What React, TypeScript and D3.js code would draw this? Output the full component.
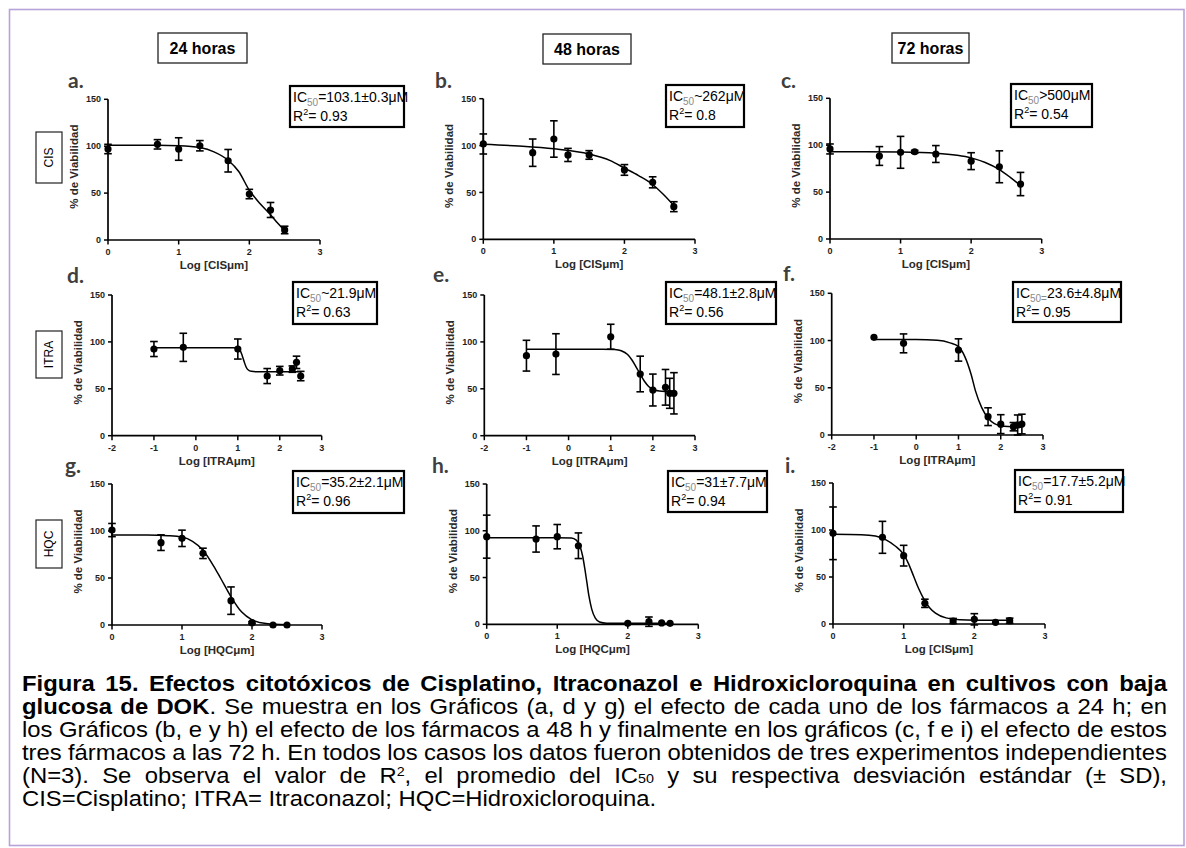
import React from "react";
import * as d3 from "d3";

// ---------------- data ----------------
const timeLabels = ["24 horas", "48 horas", "72 horas"];
const drugLabels = ["CIS", "ITRA", "HQC"];
const panelLetters = ["a.", "b.", "c.", "d.", "e.", "f.", "g.", "h.", "i."];
const xAxisTitles = [
  "Log [CISμm]", "Log [CISμm]", "Log [CISμm]",
  "Log [ITRAμm]", "Log [ITRAμm]", "Log [ITRAμm]",
  "Log [HQCμm]", "Log [HQCμm]", "Log [CISμm]",
];
const yAxisTitle = "% de Viabilidad";
const ic50Sub = ["50", "50", "50", "50", "50", "50=", "50", "50", "50"];
const ic50Values = [
  "=103.1±0.3μM", "~262μM", ">500μM",
  "~21.9μM", "=48.1±2.8μM", "23.6±4.8μM",
  "=35.2±2.1μM", "=31±7.7μM", "=17.7±5.2μM",
];
const r2Values = ["0.93", "0.8", "0.54", "0.63", "0.56", "0.95", "0.96", "0.94", "0.91"];
const yTicks = [0, 50, 100, 150];
const xTicksCIS = [0, 1, 2, 3];
const xTicksITRA = [-2, -1, 0, 1, 2, 3];

// a. CIS 24 h
const cis24X = [0, 0.7, 1, 1.3, 1.7, 2, 2.3, 2.5];
const cis24Y = [97, 102, 97, 100.5, 84.5, 49, 32, 10.7];
const cis24Err = [5, 5, 12, 5.5, 12, 5, 8, 4];
const cis24CurveX = [0, 0.7, 1.0, 1.3, 1.5, 1.7, 1.85, 2.0, 2.15, 2.3, 2.4, 2.5];
const cis24CurveY = [101, 101, 100.5, 98.5, 94, 85, 73, 53, 39, 27, 18, 10];
// b. CIS 48 h
const cis48X = [0, 0.7, 1, 1.2, 1.5, 2, 2.4, 2.7];
const cis48Y = [101.7, 92.4, 107, 90, 90, 74, 60.8, 34.8];
const cis48Err = [10.7, 14.6, 19.4, 7, 4.6, 5.7, 5.9, 5.3];
const cis48CurveX = [0, 0.5, 1, 1.5, 1.8, 2, 2.2, 2.4, 2.55, 2.7];
const cis48CurveY = [101.5, 99.5, 96.5, 91, 84, 76, 68, 58.5, 48, 36];
// c. CIS 72 h
const cis72X = [0, 0.7, 1, 1.2, 1.5, 2, 2.4, 2.7];
const cis72Y = [96, 88.5, 92.4, 93, 90.6, 83, 77, 58.6];
const cis72Err = [5.3, 10, 17, 1.5, 9, 9, 17, 12.4];
const cis72CurveX = [0, 0.5, 1, 1.5, 1.8, 2, 2.2, 2.4, 2.55, 2.7];
const cis72CurveY = [93, 93, 92.7, 91.5, 89.3, 86.5, 81.5, 74, 66, 57];
// d. ITRA 24 h
const itra24X = [-1, -0.3, 1, 1.7, 2, 2.3, 2.4, 2.5];
const itra24Y = [92.4, 94.2, 92.4, 63.6, 69.3, 71, 78.2, 63.6];
const itra24Err = [8, 15, 10.7, 8, 4.6, 3.4, 6.6, 5];
const itra24CurveX = [-1, 0.9, 1.0, 1.05, 1.1, 1.15, 1.2, 1.25, 1.32, 1.45, 2.5];
const itra24CurveY = [93.8, 93.8, 93.5, 91.5, 86, 79, 73, 70, 68.6, 68.2, 68.2];
// e. ITRA 48 h
const itra48X = [-1, -0.3, 1, 1.7, 2, 2.3, 2.4, 2.5];
const itra48Y = [85.3, 87, 105.5, 65.8, 48.7, 51.6, 45.2, 45.2];
const itra48Err = [16.4, 21.7, 13.3, 19, 17, 19, 16, 22];
const itra48CurveX = [-1, 0.8, 1.1, 1.25, 1.4, 1.5, 1.6, 1.7, 1.8, 1.9, 2.0, 2.15, 2.5];
const itra48CurveY = [92.2, 92.2, 91.8, 90.5, 86.5, 81, 73.5, 65.5, 58, 52.5, 49.5, 47.7, 47];
// f. ITRA 72 h
const itra72X = [-1, -0.3, 1, 1.7, 2, 2.3, 2.4, 2.5];
const itra72Y = [103.4, 97, 90, 19.4, 11.5, 8.8, 10.6, 11.6];
const itra72Err = [0, 10, 11.8, 9.4, 10, 4.4, 10.6, 10.4];
const itra72CurveX = [-1, 0, 0.5, 0.8, 1.0, 1.15, 1.3, 1.4, 1.55, 1.7, 1.85, 2.0, 2.5];
const itra72CurveY = [101, 101, 100.3, 97.5, 93.5, 83, 64, 47, 29, 18, 12, 9.8, 8.3];
// g. HQC 24 h
const hqc24X = [0, 0.7, 1, 1.3, 1.7, 2, 2.3, 2.5];
const hqc24Y = [101, 87.6, 92.2, 76.2, 25.9, 2.5, 0, 0];
const hqc24Err = [7, 8.3, 8.7, 5.5, 14.6, 1, 0, 0];
const hqc24CurveX = [0, 0.5, 0.8, 1.0, 1.15, 1.3, 1.45, 1.55, 1.7, 1.85, 2.0, 2.2, 2.5];
const hqc24CurveY = [95.8, 95.7, 95, 93.5, 89, 79.5, 63, 50, 30, 14, 5.5, 1.5, 0.2];
// h. HQC 48 h
const hqc48X = [0, 0.7, 1, 1.3, 2, 2.3, 2.48, 2.6];
const hqc48Y = [93.7, 91.2, 93.7, 84, 1, 2.8, 1.5, 1];
const hqc48Err = [23, 14, 13, 13.7, 0, 5, 0, 0];
const hqc48CurveX = [0, 1.0, 1.2, 1.27, 1.32, 1.36, 1.39, 1.42, 1.45, 1.49, 1.54, 1.6, 1.7, 2.6];
const hqc48CurveY = [92.6, 92.6, 92.2, 90, 84, 73, 60, 45, 30, 16, 6.5, 2.5, 1.2, 1];
// i. HQC 72 h
const hqc72X = [0, 0.7, 1, 1.3, 1.7, 2, 2.3, 2.5];
const hqc72Y = [96.5, 92.2, 72.7, 22, 3.2, 5, 1.8, 3.5];
const hqc72Err = [28, 17, 11, 4.4, 2.7, 6, 0, 2.7];
const hqc72CurveX = [0, 0.4, 0.6, 0.75, 0.88, 1.0, 1.07, 1.14, 1.21, 1.29, 1.37, 1.45, 1.6, 1.8, 2.0, 2.5];
const hqc72CurveY = [95.5, 95, 93.5, 89.5, 83, 74, 64, 51, 38, 26, 17, 11.5, 6.5, 4.6, 4.1, 4];

const panelX = [cis24X, cis48X, cis72X, itra24X, itra48X, itra72X, hqc24X, hqc48X, hqc72X];
const panelY = [cis24Y, cis48Y, cis72Y, itra24Y, itra48Y, itra72Y, hqc24Y, hqc48Y, hqc72Y];
const panelErr = [cis24Err, cis48Err, cis72Err, itra24Err, itra48Err, itra72Err, hqc24Err, hqc48Err, hqc72Err];
const curveXs = [cis24CurveX, cis48CurveX, cis72CurveX, itra24CurveX, itra48CurveX, itra72CurveX, hqc24CurveX, hqc48CurveX, hqc72CurveX];
const curveYs = [cis24CurveY, cis48CurveY, cis72CurveY, itra24CurveY, itra48CurveY, itra72CurveY, hqc24CurveY, hqc48CurveY, hqc72CurveY];

const captionLines = [
  [{ t: "Figura 15. Efectos citotóxicos de Cisplatino, Itraconazol e Hidroxicloroquina en cultivos con baja", b: true }],
  [
    { t: "glucosa de DOK", b: true },
    { t: ". Se muestra en los Gráficos (a, d y g) el efecto de cada uno de los fármacos a 24 h; en" },
  ],
  [{ t: "los Gráficos (b, e y h) el efecto de los fármacos a 48 h y finalmente en los gráficos (c, f e i) el efecto de estos" }],
  [{ t: "tres fármacos a las 72 h. En todos los casos los datos fueron obtenidos de tres experimentos independientes" }],
  [
    { t: "(N=3). Se observa el valor de R" },
    { t: "2", sup: true },
    { t: ", el promedio del IC" },
    { t: "50", sub: true },
    { t: " y su respectiva desviación estándar (± SD)," },
  ],
  [{ t: "CIS=Cisplatino; ITRA= Itraconazol; HQC=Hidroxicloroquina." }],
];

// ---------------- layout ----------------
const W = 1186;
const H = 848;
const FONT = "'Liberation Sans', Arial, Helvetica, sans-serif";
const frames = [
  { xL: 108, xR: 320, yB: 240, yT: 99.3 },
  { xL: 483.3, xR: 695, yB: 239.3, yT: 98.7 },
  { xL: 830, xR: 1041.7, yB: 239, yT: 98.3 },
  { xL: 112, xR: 321.7, yB: 435.7, yT: 295 },
  { xL: 484.3, xR: 695, yB: 435.7, yT: 295 },
  { xL: 831.7, xR: 1043, yB: 435, yT: 293.3 },
  { xL: 112, xR: 322, yB: 625, yT: 484 },
  { xL: 486.7, xR: 698.3, yB: 624.3, yT: 484 },
  { xL: 833, xR: 1045, yB: 624, yT: 483 },
];
const letterPos = [
  [68, 88], [435, 88], [781, 88],
  [67, 283], [433, 282], [783, 281],
  [65, 473], [432, 473], [785, 473],
];
const icBoxes = [
  [290, 86, 404, 127], [666, 85, 744, 127], [1011, 84, 1092, 127],
  [293, 282, 377, 324], [666, 282, 776, 324], [1013, 282, 1121, 322],
  [293, 471, 404, 513], [668, 471, 767, 512], [1015, 470, 1123, 512],
];
const timeBoxes = [[158, 33, 247, 63], [543, 34, 631, 64], [892, 33, 969, 63]];
const drugBoxes = [[36, 132, 62, 183], [36, 331, 62, 378], [36, 520, 62, 568]];

const CAP_X0 = 22;
const CAP_X1 = 1167;
const CAP_SIZE = 22.5;
const CAP_SX = 1.06; // horizontal stretch of caption glyphs
const CAP_Y0 = 691;
const CAP_DY = 23;

// ---------------- caption helpers ----------------
let ctx: CanvasRenderingContext2D | null = null;
function measure(text: string, size: number, bold: boolean) {
  if (!ctx) ctx = document.createElement("canvas").getContext("2d");
  if (!ctx) return text.length * size * 0.5;
  ctx.font = `${bold ? "bold " : ""}${size}px "Liberation Sans", Arial, sans-serif`;
  return ctx.measureText(text).width;
}

type Run = { t: string; b?: boolean; sup?: boolean; sub?: boolean };
function splitWords(line: Run[]) {
  const words: Run[][] = [[]];
  line.forEach((r) => {
    const parts = r.t.split(" ");
    parts.forEach((p, i) => {
      if (i > 0) words.push([]);
      if (p.length) words[words.length - 1].push({ ...r, t: p });
    });
  });
  return words.filter((w) => w.length);
}
function runSize(r: Run) {
  return r.sup || r.sub ? CAP_SIZE * 0.6 : CAP_SIZE;
}
function wordWidth(w: Run[]) {
  return w.reduce((s, r) => s + measure(r.t, runSize(r), !!r.b), 0) * CAP_SX;
}

function Caption() {
  const out: React.ReactNode[] = [];
  captionLines.forEach((line, li) => {
    const words = splitWords(line as Run[]);
    const widths = words.map(wordWidth);
    const total = widths.reduce((a, b) => a + b, 0);
    const last = li === captionLines.length - 1;
    const gap = last
      ? measure(" ", CAP_SIZE, false) * CAP_SX
      : (CAP_X1 - CAP_X0 - total) / (words.length - 1);
    let x = CAP_X0;
    const y = CAP_Y0 + li * CAP_DY;
    words.forEach((w, wi) => {
      let off = 0;
      out.push(
        <text
          key={`${li}-${wi}`}
          transform={`translate(${x},${y}) scale(${CAP_SX},1)`}
          fontFamily={FONT}
          fontSize={CAP_SIZE}
          fill="#000"
        >
          {w.map((r, ri) => {
            let target = 0;
            if (r.sup) target = -CAP_SIZE * 0.3;
            if (r.sub) target = CAP_SIZE * 0.02;
            const dy = target - off;
            off = target;
            return (
              <tspan key={ri} dy={dy} fontSize={runSize(r)} fontWeight={r.b ? "bold" : "normal"}>
                {r.t}
              </tspan>
            );
          })}
        </text>
      );
      x += widths[wi] + gap;
    });
  });
  return <g>{out}</g>;
}

// ---------------- panel ----------------
function Panel({ i }: { i: number }) {
  const f = frames[i];
  const isItra = i >= 3 && i <= 5;
  const xDomain: [number, number] = isItra ? [-2, 3] : [0, 3];
  const xTicks = isItra ? xTicksITRA : xTicksCIS;
  const x = d3.scaleLinear().domain(xDomain).range([f.xL, f.xR]);
  const y = d3.scaleLinear().domain([0, 150]).range([f.yB, f.yT]);
  const cx = curveXs[i];
  const cy = curveYs[i];
  const line = d3
    .line<number>()
    .x((d) => x(cx[d]))
    .y((d) => y(cy[d]))
    .curve(d3.curveMonotoneX);
  const idx = d3.range(cx.length);
  const px = panelX[i];
  const py = panelY[i];
  const pe = panelErr[i];
  const [lx, ly] = letterPos[i];
  const [bx0, by0, bx1, by1] = icBoxes[i];
  const tickColor = "#1e1e1e";
  return (
    <g>
      <text x={lx} y={ly} fontFamily="Lato, 'Open Sans', sans-serif" fontWeight="bold" fontSize={21} fill="#3f3f3f">
        {panelLetters[i]}
      </text>
      {/* axes */}
      <line x1={f.xL} x2={f.xR} y1={f.yB} y2={f.yB} stroke="#000" strokeWidth={1.7} />
      <line x1={f.xL} x2={f.xL} y1={f.yB} y2={f.yT} stroke="#000" strokeWidth={1.7} />
      {yTicks.map((t) => (
        <g key={`yt${t}`}>
          <line x1={f.xL - 4} x2={f.xL} y1={y(t)} y2={y(t)} stroke="#000" strokeWidth={1.5} />
          <text x={f.xL - 7} y={y(t)} dy="0.35em" textAnchor="end" fontFamily={FONT} fontWeight="bold" fontSize={9} fill={tickColor}>
            {t}
          </text>
        </g>
      ))}
      {xTicks.map((t) => (
        <g key={`xt${t}`}>
          <line x1={x(t)} x2={x(t)} y1={f.yB} y2={f.yB + 4.5} stroke="#000" strokeWidth={1.5} />
          <text x={x(t)} y={f.yB + 15} textAnchor="middle" fontFamily={FONT} fontWeight="bold" fontSize={9} fill={tickColor}>
            {t}
          </text>
        </g>
      ))}
      <text
        x={(f.xL + f.xR) / 2}
        y={f.yB + 29}
        textAnchor="middle"
        fontFamily={FONT}
        fontWeight="bold"
        fontSize={11.5}
        fill="#2a2a2a"
      >
        {xAxisTitles[i]}
      </text>
      <text
        transform={`translate(${f.xL - 30},${(f.yB + f.yT) / 2 - 3}) rotate(-90)`}
        textAnchor="middle"
        fontFamily={FONT}
        fontWeight="bold"
        fontSize={11.5}
        fill="#2a2a2a"
      >
        {yAxisTitle}
      </text>
      {/* curve */}
      <path d={line(idx) || ""} fill="none" stroke="#000" strokeWidth={1.5} />
      {/* error bars */}
      {px.map((xv, k) =>
        pe[k] > 0 ? (
          <g key={`e${k}`} stroke="#000" strokeWidth={1.6}>
            <line x1={x(xv)} x2={x(xv)} y1={y(py[k] - pe[k])} y2={y(py[k] + pe[k])} />
            <line x1={x(xv) - 3.8} x2={x(xv) + 3.8} y1={y(py[k] - pe[k])} y2={y(py[k] - pe[k])} />
            <line x1={x(xv) - 3.8} x2={x(xv) + 3.8} y1={y(py[k] + pe[k])} y2={y(py[k] + pe[k])} />
          </g>
        ) : null
      )}
      {px.map((xv, k) => (
        <circle key={`p${k}`} cx={x(xv)} cy={y(py[k])} r={3.6} fill="#000" />
      ))}
      {/* IC50 box */}
      <rect x={bx0} y={by0} width={bx1 - bx0} height={by1 - by0} fill="#fff" stroke="#000" strokeWidth={2.2} />
      <text x={bx0 + 3} y={by0 + 16} fontFamily={FONT} fontSize={14} fill="#000">
        <tspan>IC</tspan>
        <tspan dy={3.5} fontSize={10} fill="#8a8a8a">
          {ic50Sub[i]}
        </tspan>
        <tspan dy={-3.5}>{ic50Values[i]}</tspan>
      </text>
      <text x={bx0 + 3} y={by0 + 35} fontFamily={FONT} fontSize={14} fill="#000">
        <tspan>R</tspan>
        <tspan dy={-6} fontSize={9}>
          2
        </tspan>
        <tspan dy={6}>{"= " + r2Values[i]}</tspan>
      </text>
    </g>
  );
}

export default function App() {
  return (
    <div style={{ position: "absolute", left: 0, top: 0, width: W, height: H, background: "#fff" }}>
      <svg width={W} height={H} viewBox={`0 0 ${W} ${H}`} style={{ display: "block" }}>
        <rect x={0} y={0} width={W} height={H} fill="#fff" />
        <rect x={9.5} y={9.5} width={1174.5} height={836} fill="none" stroke="#b8a2da" strokeWidth={1.6} />
        {timeBoxes.map(([x0, y0, x1, y1], k) => (
          <g key={`tb${k}`}>
            <rect x={x0} y={y0} width={x1 - x0} height={y1 - y0} fill="#fff" stroke="#222" strokeWidth={1.3} />
            <text
              x={(x0 + x1) / 2}
              y={(y0 + y1) / 2 + 5.8}
              textAnchor="middle"
              fontFamily={FONT}
              fontWeight="bold"
              fontSize={16}
              fill="#000"
            >
              {timeLabels[k]}
            </text>
          </g>
        ))}
        {drugBoxes.map(([x0, y0, x1, y1], k) => (
          <g key={`db${k}`}>
            <rect x={x0} y={y0} width={x1 - x0} height={y1 - y0} fill="#fff" stroke="#222" strokeWidth={1.2} />
            <text
              transform={`translate(${(x0 + x1) / 2 + 4.2},${(y0 + y1) / 2}) rotate(-90)`}
              textAnchor="middle"
              fontFamily={FONT}
              fontSize={12}
              fill="#000"
            >
              {drugLabels[k]}
            </text>
          </g>
        ))}
        {d3.range(9).map((i) => (
          <Panel key={i} i={i} />
        ))}
        <Caption />
      </svg>
    </div>
  );
}
